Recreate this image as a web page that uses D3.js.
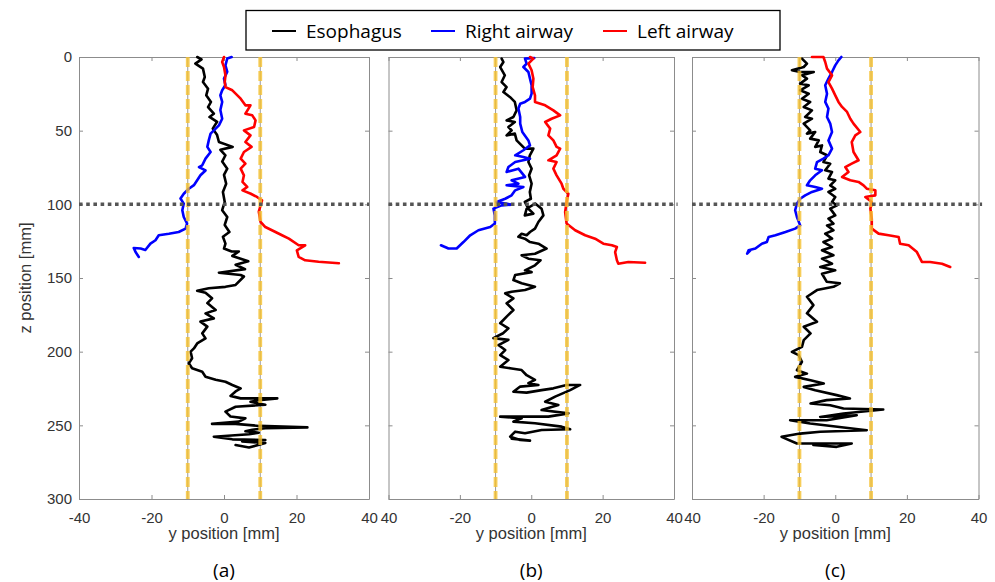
<!DOCTYPE html>
<html>
<head>
<meta charset="utf-8">
<script src="https://cdn.jsdelivr.net/npm/d3@7"></script>
<style>
  body { margin: 0; background: #fff; }
  svg { display: block; }
  .tick text { font-family: "Liberation Sans", Arial, sans-serif; font-size: 15px; fill: #333; }
</style>
</head>
<body>
<script>
var W = 995, H = 582;

// traces: [lateral y (mm), depth z (mm)]
var escA = [[-7.4,0],[-6.2,1.6],[-7.9,4.5],[-5.8,7.9],[-5.3,13.6],[-5.8,17],[-4.4,21.5],[-4.9,26],[-3.6,30.5],[-4.4,34],[-2.8,38.5],[-4.0,40.7],[-1.9,44],[-3.1,48.6],[-1.9,53],[-1.4,57.7],[2.4,61],[-1.0,63],[0.4,66.7],[-0.5,71],[0.9,75.8],[0,80],[0.6,86],[-0.3,91.6],[0.2,98.4],[-0.5,104],[0.9,108.6],[0.2,114],[1.5,118.8],[-0.3,122],[0.4,126.7],[0,130],[2.1,132],[4.1,132],[2.3,135],[6.7,138.7],[3.2,141],[5.8,144],[-1.4,146.4],[4.6,148],[5.5,149],[3.2,154.7],[0.4,156],[-4.2,157],[-7.4,158.6],[-5.1,160],[-3.3,163.8],[-4.6,167],[-2.3,171.7],[-5.1,174],[-2.8,177.4],[-6.5,179.6],[-4.6,183],[-6.0,187.6],[-5.1,191],[-7.4,194.4],[-8.3,197.8],[-9.2,200],[-8.8,204.5],[-9.7,207.9],[-8.8,211.3],[-6.0,213.6],[-5.1,217],[-2.3,219],[0.4,220.4],[2.3,222.6],[4.6,225],[3.2,227],[1.8,230],[4.6,231.7],[14.7,231.7],[9.6,233],[7.3,234],[11.4,236],[3.2,237.4],[0.4,240.7],[1.8,244],[5.9,245.3],[4.1,247.5],[-3.3,249],[3.2,249],[9.6,250.4],[23,251.4],[11.4,252],[7.8,253],[5.9,254],[9.6,255],[6.9,256],[-2.8,257.7],[2.3,259.5],[11.4,260],[5,261],[11.4,262],[6.9,265],[3.2,263.4]];
var rightA = [[2.1,0],[0.9,1],[0.4,5.7],[0.9,10],[0,14.7],[0.4,19],[-0.5,22.6],[-1,26],[-0.5,30.5],[-1,36],[-0.5,41.9],[-1.4,46.4],[-2.8,49.8],[-3.7,52],[-4.2,56.6],[-4.6,61],[-3.7,64.5],[-5.1,69],[-6.0,73.5],[-6.9,74.7],[-5.1,77],[-6.5,80.3],[-7.4,83.7],[-8.3,87],[-9.7,89.4],[-11.1,92.8],[-12,96],[-11.1,99.5],[-11.5,104],[-11.1,108.6],[-10.2,113],[-10.6,116.5],[-12.5,118.8],[-15.2,120],[-18,121],[-18.9,124.4],[-20.3,126.7],[-21.7,131],[-23,130],[-24.9,129.6],[-24.4,132.4],[-23.5,135.7]];
var leftA = [[0,0],[-0.5,3.4],[0,6.8],[0.4,12.4],[0.2,17],[0.4,20.4],[2.3,22.6],[4.6,28.3],[5.9,32.8],[7.3,32.8],[5.9,38.5],[7.8,39.6],[8.7,43],[8.3,47.5],[5.5,49.8],[7.3,53.2],[5.9,57.7],[7.6,61],[5.5,64.5],[4.6,69],[5.9,72.4],[4.6,75.8],[5.5,80.3],[5.1,84.8],[6.4,88.2],[5.1,90.5],[7.4,92.8],[9.1,95],[10.5,97.3],[10.1,100.7],[9.6,105],[10.1,112],[11.4,115.4],[14.2,118.8],[16.0,121],[17.9,123.3],[20.6,127.8],[22.4,127.8],[20.1,131.2],[20.6,135.7],[22.4,138],[26.1,139],[31.7,140]];

var escB = [[-8.3,1.1],[-7.8,3.4],[-8.7,6.8],[-7.4,12.4],[-8.3,17],[-6.9,20.4],[-7.8,23.8],[-6.0,27.1],[-4.6,30.5],[-4.1,36.2],[-5.0,40.7],[-6.9,43],[-4.6,44.1],[-6.4,47.5],[-5.5,49.8],[-6.9,53.2],[-4.6,52],[-4.1,56.6],[-2.7,60],[-1.8,62.2],[0.6,62.2],[-0.4,66.7],[-0.8,71.3],[0.1,75.8],[-0.6,80.3],[0.1,86],[-0.4,91.6],[-0.1,96.2],[-1.8,98.4],[-0.8,103],[0.6,106.3],[-1.8,107.5],[-1.3,103],[1.1,99.5],[2.9,103],[3.4,107.5],[2.0,112],[1.05,116.5],[-0.35,118.8],[-1.3,121],[-2.7,120],[-3.6,122],[-1.8,123.3],[-0.35,125.6],[2.0,126.7],[4.3,130],[1.05,133.5],[-2.7,134.6],[-0.8,136.9],[2.6,138],[1.05,141.4],[-1.75,144.8],[0.1,146],[-4.5,148],[-5.0,151.4],[-2.7,153.6],[1.05,155.9],[-1.75,158.1],[-5.5,159.3],[-7.3,160.4],[-5.0,163.8],[-6.9,167.2],[-5.0,171.7],[-6.9,176.2],[-8.7,180.7],[-6.4,184.2],[-7.9,187.5],[-10.6,190.8],[-6.4,192],[-9.2,195.5],[-7.3,198.9],[-8.7,202.3],[-6.4,205.7],[-8.7,210.2],[-5.5,211.4],[-2.7,212.5],[-1.3,216],[1.05,219.2],[-0.8,221.4],[2,222.6],[-3.1,223.7],[-5.0,227.2],[-1.3,227.8],[2.9,226.1],[6.2,224.9],[9.9,222.6],[13.7,222.6],[10.9,226.1],[6.7,230.5],[3.9,234],[7.6,236.2],[2.9,239.6],[10.4,241.9],[4.8,244.1],[-8.7,244.1],[-2.7,245.3],[-5.0,247.5],[1.05,248.6],[8.5,250.9],[10.9,252.7],[2.9,253.2],[-1.75,255.4],[-4.5,254.3],[-5.9,257.7],[-3.1,260],[-0.35,260.4],[-5.5,259]];
var rightB = [[0.85,0.7],[-1.75,1.1],[-1.3,4.5],[-2.2,6.8],[-0.8,10.2],[-0.35,14.7],[0.1,19.2],[0.1,24.9],[-0.35,28.3],[-1.75,30.5],[-3.1,31.7],[-3.6,35],[-3.1,40.7],[-3.1,45.2],[-2.5,50.9],[-0.8,56.6],[-0.35,60],[-2.2,63.3],[-4.5,66.7],[-2.2,67.9],[-0.35,69],[-4.5,71.3],[-6.4,74.7],[-6.9,78],[-3.6,75.8],[-1.75,81.4],[-5.5,83.7],[-3.6,86],[-6.9,87.1],[-2.2,88.2],[-4.5,90.5],[-5.5,93.9],[-7.3,96.2],[-9.7,98.4],[-5.5,100.2],[-8.3,100.7],[-10.6,102.9],[-10.2,107.5],[-10.2,113],[-11.5,115.4],[-14.8,117.6],[-17.1,121],[-19,125.6],[-20.9,130],[-23.2,130],[-25.3,127.8]];
var leftB = [[-0.35,0],[0.6,1.1],[-0.8,4.5],[0.1,9],[0.6,14.7],[0.4,20.4],[1.05,26],[1.05,30.5],[3.9,32.8],[6.2,36.2],[8.1,39.6],[5.7,41.9],[3.9,44.1],[5.3,48.6],[4.8,53.2],[6.2,56.6],[7.1,61],[8.1,62.2],[7.1,66.7],[4.8,70.1],[7.1,71.3],[6.2,75.8],[7.1,80.3],[8.5,86],[9,89.4],[10.4,92.8],[9.9,98.4],[9.5,105.2],[9.9,113],[12.3,117.6],[15.1,121],[17.9,123.3],[20.2,126.7],[22.6,127.8],[24,129],[23.5,132.4],[24,138],[24.4,140.3],[27.2,139.1],[31.9,139.6]];

var escC = [[-9.3,1.1],[-7.9,4.5],[-8.8,6.8],[-12.1,9],[-9.8,10.2],[-6.0,10.2],[-9.3,12.4],[-7.9,14.7],[-9.8,18.1],[-7.4,19.2],[-9.8,22.6],[-7.4,24.9],[-9.3,28.3],[-7.0,30.5],[-8.8,33.9],[-6.5,36.2],[-8.4,40.7],[-6.5,41.9],[-8.8,45.2],[-7.0,49.8],[-7.9,52],[-5.6,50.9],[-7.0,55.4],[-4.6,56.6],[-5.6,61],[-3.7,60],[-4.2,64.5],[-2.3,66.7],[-3.3,71.3],[-1.4,72.4],[-2.8,76.9],[-0.9,78],[-1.9,82.6],[0,83.7],[-1.4,87.1],[0,89.4],[-1.9,91.6],[0,95],[-0.9,98.4],[0.5,100.7],[-1.4,102.9],[0,107.5],[-1.9,109.7],[-0.5,113.1],[-2.3,114.3],[-0.5,117.6],[-2.8,119.9],[-0.9,123.3],[-3.3,125.6],[-0.9,129],[-3.7,131.2],[-0.5,134.6],[-3.7,136.9],[-0.9,140.3],[-4.2,142.5],[0,144.8],[-3.7,147.1],[-2.4,152.5],[1.3,153.6],[-0.5,156],[-5.1,158.2],[-7.9,162.7],[-6.1,168.4],[-7.9,174],[-5.1,179.7],[-8.8,183.1],[-6.9,187.6],[-8.8,192.2],[-9.3,196.7],[-12.1,200.1],[-10.2,202.4],[-9.3,206.9],[-10.7,212.6],[-7.9,214.9],[-11.2,217.1],[-6.9,219.4],[-3.2,221.6],[-8.8,223.9],[-5.6,226.2],[0.4,229.5],[4.1,231.8],[-2.4,232.9],[-6.9,235.2],[-1.4,236.4],[2.3,238.6],[13.4,239.3],[2.3,242],[-4.2,244.3],[6.0,243.2],[-2.4,246.5],[-12.6,246.5],[-7.0,248.8],[8.8,253.3],[-4.2,254.4],[-9.8,255.6],[-15,257.8],[-10.7,262.3],[-5.1,262.3],[4.6,262.3],[0.4,264.6],[-6.1,263.4]];
var rightC = [[1.7,0],[0.9,2.3],[0,5.7],[-0.9,10.2],[-1.9,14.7],[-2.8,19.2],[-2.3,24.9],[-2.8,30.5],[-1.9,35],[-2.3,40.7],[-1.4,45.2],[-0.9,50.9],[-1.9,56.6],[-0.9,62.2],[-1.9,66.7],[-3.3,69],[-5.1,71.3],[-5.6,75.8],[-3.7,76.9],[-5.6,80.3],[-7.0,83.7],[-7.9,87.1],[-5.6,88.2],[-3.7,89.4],[-6.5,91.6],[-8.4,93.9],[-9.8,96.2],[-10.7,99.5],[-11.2,104],[-10.7,108.6],[-9.8,114.3],[-11.2,116.5],[-13.9,118.8],[-16.7,121],[-18.6,122.2],[-19.1,125.6],[-20.5,126.7],[-22.3,130],[-24.2,131.2],[-24.6,133.5],[-23.7,131.2]];
var leftC = [[-6.5,0],[-3.3,0],[-2.8,3.4],[-2.3,7.9],[-0.9,12.4],[-1.9,17],[-0.9,21.5],[0,26],[0.9,30.5],[1.9,33.9],[3.3,37.3],[4.2,41.9],[5.1,45.2],[7.0,50.9],[5.6,53.2],[4.6,57.7],[5.1,64.5],[6.5,70.1],[4.6,72.4],[2.8,74.7],[3.7,78],[1.9,81.4],[4.2,83.7],[6.5,84.8],[7.9,87.1],[8.8,89.4],[11.2,90.5],[11.2,93.9],[8.4,95],[10.2,98.4],[9.8,102.9],[10.2,109.7],[10.2,116.5],[12.1,119.9],[14.9,121],[17.7,122.2],[18.1,126.7],[20.5,127.8],[22.8,132.4],[24.2,139.1],[26.5,139.1],[29.8,140.3],[32.1,142.5]];

var seriesNames = ["Esophagus", "Right airway", "Left airway"];
var seriesColors = ["#000000", "#0000ff", "#ff0000"];
var panelLabels = ["(a)", "(b)", "(c)"];
var xTicks = [-40, -20, 0, 20, 40];
var zTicks = [0, 50, 100, 150, 200, 250, 300];
var boundaryY = [-10, 10];   // yellow dashed limits
var carinaZ = 100;           // dotted line

var panels = [
  {left: 79,    right: 369,   data: [escA, rightA, leftA]},
  {left: 388.5, right: 674,   data: [escB, rightB, leftB]},
  {left: 692,   right: 978.5, data: [escC, rightC, leftC]}
];
var plotTop = 57, plotBottom = 499;

var svg = d3.select("body").append("svg")
    .attr("width", W)
    .attr("height", H);

panels.forEach(function(p, pi) {
  var x = d3.scaleLinear().domain([-40, 40]).range([p.left, p.right]);
  var z = d3.scaleLinear().domain([0, 300]).range([plotTop, plotBottom]);
  var g = svg.append("g");

  // axes, ticks pointing inward; the minus of -40 is hidden in panels b and c
  var fmt = function(d) { return (pi > 0 && d === -40) ? "40" : String(d); };
  var ax = [
    g.append("g").attr("transform", "translate(0," + plotBottom + ")")
      .call(d3.axisBottom(x).tickValues(xTicks).tickSize(-4).tickSizeOuter(0).tickPadding(13).tickFormat(fmt)),
    g.append("g").attr("transform", "translate(0," + plotTop + ")")
      .call(d3.axisTop(x).tickValues(xTicks).tickSize(-4).tickSizeOuter(0).tickFormat("")),
    g.append("g").attr("transform", "translate(" + p.left + ",0)")
      .call(d3.axisLeft(z).tickValues(zTicks).tickSize(-4).tickSizeOuter(0).tickPadding(7)
        .tickFormat(pi === 0 ? d3.format("d") : "")),
    g.append("g").attr("transform", "translate(" + p.right + ",0)")
      .call(d3.axisRight(z).tickValues(zTicks).tickSize(-4).tickSizeOuter(0).tickFormat(""))
  ];
  ax.forEach(function(a) {
    a.select(".domain").attr("stroke", "#8c8c8c");
    a.selectAll(".tick line").attr("stroke", "#8c8c8c");
  });

  // thin gray guide under yellow dashes
  g.selectAll(".guide").data(boundaryY).enter().append("line")
    .attr("x1", function(d) { return x(d); }).attr("x2", function(d) { return x(d); })
    .attr("y1", plotTop).attr("y2", plotBottom)
    .attr("stroke", "#999").attr("stroke-width", 1);

  var line = d3.line().x(function(d) { return x(d[0]); }).y(function(d) { return z(d[1]); });

  p.data.forEach(function(s, si) {
    g.append("path").datum(s)
      .attr("d", line)
      .attr("fill", "none")
      .attr("stroke", seriesColors[si])
      .attr("stroke-width", 2.6)
      .attr("stroke-linejoin", "round")
      .attr("stroke-linecap", "round");
  });

  g.selectAll(".lim").data(boundaryY).enter().append("line")
    .attr("x1", function(d) { return x(d); }).attr("x2", function(d) { return x(d); })
    .attr("y1", plotTop).attr("y2", plotBottom)
    .attr("stroke", "#f5c030").attr("stroke-opacity", 0.8)
    .attr("stroke-width", 3.8)
    .attr("stroke-dasharray", "10,4");

  g.append("line")
    .attr("x1", x(-40)).attr("x2", pi === 0 ? x(40) : x(41))
    .attr("y1", z(carinaZ)).attr("y2", z(carinaZ))
    .attr("stroke", "#555").attr("stroke-width", 3.5)
    .attr("stroke-dasharray", "3.6,3.6");

  g.append("text")
    .attr("x", (p.left + p.right) / 2).attr("y", 539)
    .attr("text-anchor", "middle")
    .style("font-family", "Liberation Sans, Arial, sans-serif")
    .style("font-size", "16.5px").style("fill", "#333")
    .text("y position [mm]");

  g.append("text")
    .attr("x", (p.left + p.right) / 2).attr("y", 577)
    .attr("text-anchor", "middle")
    .style("font-family", "Open Sans, sans-serif")
    .style("font-size", "19px").style("fill", "#000")
    .text(panelLabels[pi]);
});

svg.append("text")
  .attr("transform", "translate(31," + ((plotTop + plotBottom) / 2) + ") rotate(-90)")
  .attr("text-anchor", "middle")
  .style("font-family", "Liberation Sans, Arial, sans-serif")
  .style("font-size", "16.5px").style("fill", "#333")
  .text("z position [mm]");

// legend
var leg = svg.append("g");
leg.append("rect")
  .attr("x", 246).attr("y", 10.5).attr("width", 534).attr("height", 39.5)
  .attr("fill", "#fff").attr("stroke", "#000").attr("stroke-width", 1.3);
var legX = [272, 431, 603];
seriesNames.forEach(function(n, i) {
  leg.append("line")
    .attr("x1", legX[i]).attr("x2", legX[i] + 24)
    .attr("y1", 31).attr("y2", 31)
    .attr("stroke", seriesColors[i]).attr("stroke-width", 2);
  leg.append("text")
    .attr("x", legX[i] + 34).attr("y", 31).attr("dy", "0.36em")
    .style("font-family", "Open Sans, sans-serif")
    .style("font-size", "19px")
    .text(n);
});
</script>
</body>
</html>
